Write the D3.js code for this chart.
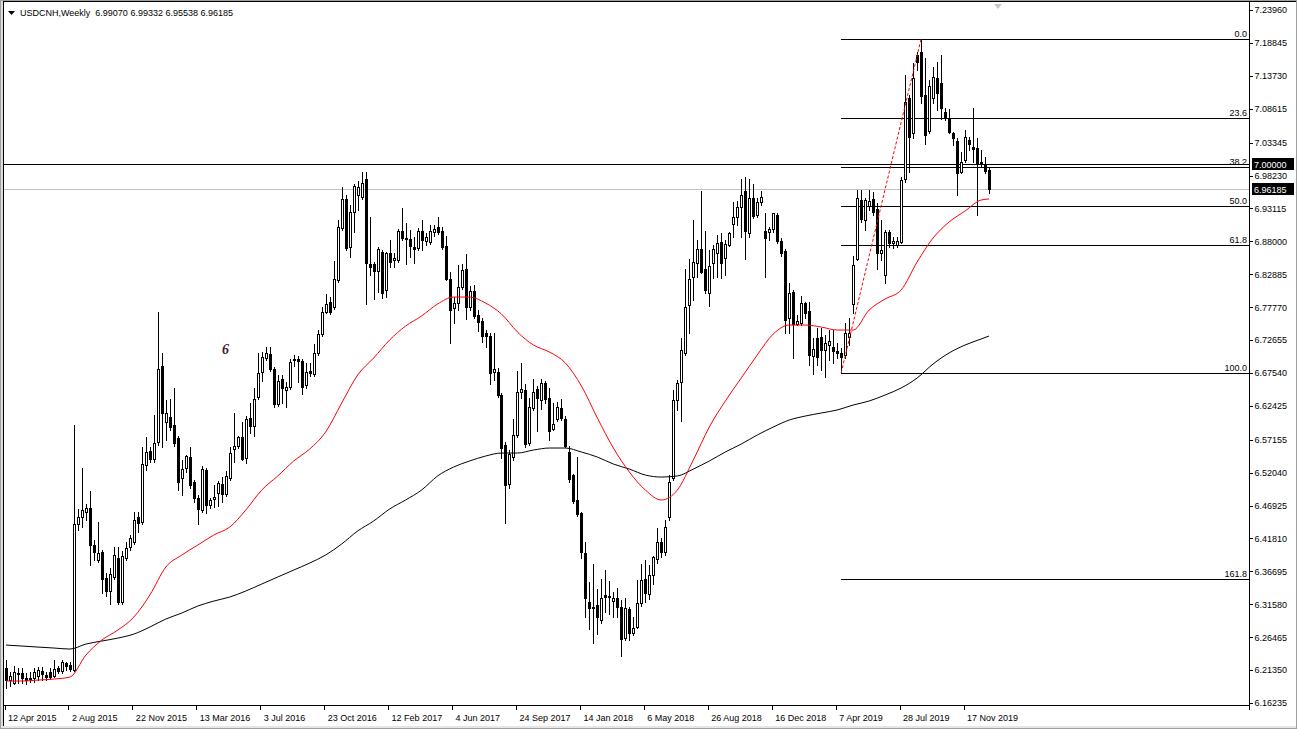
<!DOCTYPE html>
<html><head><meta charset="utf-8">
<script src="https://cdn.jsdelivr.net/npm/d3@7"></script>
<style>
body{margin:0;background:#fff;}
svg{display:block;}
text{font-family:"Liberation Sans",Arial,sans-serif;font-size:9px;fill:#000;white-space:pre;}
</style>
</head><body><svg id="chart" width="1297" height="729"></svg>
<script>
// ---------------- DATA ----------------
const symbolTitle = "USDCNH,Weekly";
const lastQuote = ["6.99070","6.99332","6.95538","6.96185"];

const opens = [
6.2167,6.1980,6.1934,6.2089,6.2089,6.2012,6.1996,6.2012,6.2043,6.2120,
6.2058,6.2105,6.2043,6.2167,6.2120,6.2245,6.2214,6.2136,6.4405,6.4514,
6.4592,6.4654,6.4079,6.3846,6.3970,6.3566,6.3364,6.3582,6.3877,6.3193,
6.3877,6.4048,6.4126,6.4514,6.4437,6.5323,6.5540,6.5416,6.5680,6.6861,
6.5991,6.6069,6.5944,6.5742,6.5120,6.5276,6.5447,6.5058,6.4810,6.4623,
6.5245,6.4701,6.4794,6.4887,6.5027,6.4872,6.5120,6.5571,6.5618,6.5758,
6.5431,6.6053,6.5929,6.6380,6.6768,6.6986,6.7048,6.6815,6.6271,6.6660,
6.6488,6.6535,6.6955,6.6970,6.6939,6.6566,6.6784,6.6737,6.7064,6.7359,
6.7701,6.7857,6.7779,6.8198,6.9007,6.9458,6.8711,6.9255,6.9520,6.9489,
6.9768,6.8447,6.8447,6.8338,6.8634,6.8043,6.8618,6.8509,6.8509,6.8960,
6.8851,6.8836,6.8711,6.8696,6.8960,6.8805,6.8789,6.8945,6.9022,6.8960,
6.8727,6.8214,6.7763,6.7841,6.8090,6.8370,6.7779,6.8027,6.7654,6.7561,
6.7374,6.7328,6.6768,6.6768,6.6411,6.5633,6.5027,6.5447,6.5789,6.6457,
6.6488,6.5665,6.6209,6.6504,6.6333,6.6597,6.6364,6.5882,6.6038,6.6209,
6.6038,6.5525,6.5167,6.4779,6.4576,6.3955,6.3193,6.3100,6.3146,6.2913,
6.3302,6.3271,6.3208,6.3255,6.3115,6.2633,6.3084,6.2711,6.2804,6.3177,
6.3550,6.3317,6.3613,6.3862,6.4126,6.3970,6.4514,6.5120,6.6333,6.6613,
6.7064,6.7810,6.8245,6.8463,6.8680,6.8370,6.7996,6.8463,6.8618,6.8789,
6.8540,6.8742,6.9069,6.9178,6.9333,6.9582,6.8929,6.9473,6.9209,6.9411,
6.8960,6.8945,6.8991,6.9209,6.8805,6.8649,6.7608,6.8012,6.7514,6.7530,
6.7841,6.7717,6.7017,6.7297,6.7313,6.7110,6.7188,6.7157,6.7095,6.7064,
6.7033,6.7313,6.7825,6.8525,6.9442,6.9131,6.9349,6.9458,6.9302,6.8618,
6.8276,6.8945,6.8773,6.8742,6.8789,6.9768,7.1028,7.0484,7.1696,7.1743,
7.1074,7.0515,7.1028,7.1338,7.1261,7.0810,7.0717,7.0484,7.0359,6.9877,
7.0064,7.0375,7.0266,7.0250,7.0033,7.0002,6.9907];

const highs = [
6.2291,6.2105,6.2198,6.2167,6.2167,6.2089,6.2105,6.2167,6.2183,6.2183,
6.2105,6.2167,6.2291,6.2198,6.2291,6.2260,6.2260,6.5944,6.4639,6.5276,
6.4716,6.4918,6.4157,6.4437,6.4001,6.3644,6.3721,6.4048,6.4048,6.3986,
6.4126,6.4234,6.4592,6.4592,6.5602,6.5758,6.5602,6.6100,6.7701,6.7064,
6.6333,6.6349,6.6520,6.5773,6.5400,6.5478,6.5602,6.5089,6.4856,6.5307,
6.5276,6.4810,6.5012,6.5074,6.5136,6.5229,6.5602,6.6131,6.5773,6.5991,
6.6084,6.6286,6.6520,6.7064,6.7079,6.7157,6.7157,6.6846,6.6722,6.6722,
6.6613,6.6970,6.7032,6.7017,6.6970,6.6908,6.6908,6.7204,6.7421,6.7779,
6.7981,6.7934,6.8494,6.9131,6.9644,6.9520,6.9364,6.9691,6.9738,6.9877,
6.9877,6.9178,6.8478,6.8711,6.8665,6.8634,6.8820,6.8618,6.8991,6.9318,
6.9085,6.8976,6.8867,6.9007,6.9131,6.8929,6.9053,6.9053,6.9178,6.9022,
6.8882,6.8323,6.7934,6.8432,6.8447,6.8603,6.8105,6.8121,6.7732,6.7608,
6.7421,6.7374,6.7374,6.6830,6.6442,6.5680,6.5556,6.6038,6.6784,6.6908,
6.6582,6.6364,6.6660,6.6551,6.6660,6.6628,6.6520,6.6286,6.6302,6.6349,
6.6084,6.5618,6.5183,6.5447,6.4592,6.4126,6.3504,6.3784,6.3395,6.3550,
6.3690,6.3519,6.3348,6.3410,6.3224,6.3255,6.3115,6.2960,6.3535,6.3784,
6.3846,6.3768,6.3908,6.4344,6.4188,6.4468,6.5167,6.6488,6.6644,6.7297,
6.8369,6.8525,6.9131,6.8820,6.9582,6.8960,6.8665,6.8743,6.8898,6.8929,
6.8820,6.8945,6.9411,6.9427,6.9768,6.9800,6.9768,6.9691,6.9473,6.9582,
6.9240,6.9022,6.9240,6.9240,6.8851,6.8680,6.8152,6.8043,6.7654,6.7950,
6.7857,6.7857,6.7297,6.7452,6.7452,6.7343,6.7421,6.7421,6.7219,6.7141,
6.7530,6.7608,6.8572,6.9597,6.9597,6.9473,6.9597,6.9566,6.9395,6.9131,
6.8976,6.8976,6.8867,6.8867,6.9800,7.1385,7.1074,7.1572,7.1743,7.1945,
7.1649,7.1307,7.1509,7.1587,7.1696,7.0872,7.0857,7.0499,7.0406,7.0188,
7.0530,7.0421,7.0872,7.0406,7.0219,7.0110,6.9933];

const lows = [
6.1856,6.1887,6.1918,6.1934,6.1934,6.1918,6.1949,6.1949,6.1980,6.1980,
6.1980,6.1996,6.2027,6.2089,6.2089,6.2136,6.2120,6.2120,6.4312,6.4359,
6.4468,6.3768,6.3846,6.3815,6.3333,6.3286,6.3162,6.3550,6.3162,6.3162,
6.3846,6.4001,6.4095,6.4281,6.4405,6.5245,6.5369,6.5369,6.5633,6.5602,
6.5711,6.5867,6.5618,6.4934,6.4856,6.5214,6.4965,6.4747,6.4405,6.4592,
6.4576,6.4654,6.4670,6.4685,6.4747,6.4841,6.5089,6.5369,6.5587,6.5400,
6.5354,6.5820,6.5773,6.6349,6.6628,6.6955,6.6784,6.6224,6.6240,6.6286,
6.6224,6.6504,6.6861,6.6613,6.6426,6.6520,6.6706,6.6706,6.7033,6.7328,
6.7686,6.7670,6.7748,6.8167,6.8976,6.8665,6.8556,6.8945,6.9287,6.9458,
6.7825,6.8276,6.7903,6.8012,6.7919,6.7934,6.8401,6.8401,6.8478,6.8820,
6.8447,6.8556,6.8463,6.8665,6.8665,6.8743,6.8758,6.8882,6.8914,6.8680,
6.8198,6.7219,6.7530,6.7732,6.8058,6.7592,6.7732,6.7608,6.7406,6.7235,
6.7157,6.6582,6.6644,6.6380,6.5431,6.4421,6.4965,6.5400,6.5758,6.6364,
6.5602,6.5633,6.6178,6.5851,6.6193,6.6286,6.5711,6.5867,6.6007,6.6022,
6.5602,6.5058,6.4732,6.4530,6.3877,6.2960,6.2773,6.2556,6.2695,6.2867,
6.3038,6.3006,6.2960,6.2960,6.2354,6.2602,6.2602,6.2680,6.2789,6.3131,
6.3193,6.3240,6.3473,6.3799,6.3893,6.3924,6.4468,6.5089,6.6178,6.6007,
6.7033,6.7375,6.7888,6.8245,6.8307,6.7996,6.7794,6.8230,6.8245,6.8230,
6.8276,6.8727,6.8867,6.9053,6.8867,6.8525,6.8867,6.9162,6.9178,6.9364,
6.8245,6.8820,6.8945,6.8773,6.8571,6.7375,6.7375,6.6986,6.7499,6.7499,
6.7608,6.6877,6.6737,6.6877,6.6799,6.6691,6.6955,6.6908,6.6986,6.6753,
6.6986,6.7188,6.7686,6.8509,6.9100,6.8976,6.9287,6.9209,6.8369,6.8509,
6.8152,6.8711,6.8696,6.8711,6.8773,6.9722,6.9877,7.0406,7.1463,7.0950,
7.0312,7.0484,7.0950,7.0841,7.0701,7.0686,7.0484,7.0297,6.9520,6.9862,
7.0033,7.0219,7.0033,6.9209,6.9955,6.9862,6.9554];

const closes = [
6.1980,6.2043,6.2105,6.2074,6.2012,6.1980,6.2012,6.2105,6.2136,6.2074,
6.2027,6.2027,6.2152,6.2120,6.2260,6.2198,6.2152,6.4405,6.4514,6.4623,
6.4654,6.4079,6.3970,6.3955,6.3550,6.3364,6.3628,6.3924,6.3193,6.3908,
6.4032,6.4188,6.4468,6.4421,6.5338,6.5525,6.5416,6.5665,6.6815,6.6131,
6.6131,6.5913,6.5665,6.5058,6.5260,6.5462,6.5012,6.4810,6.4639,6.5260,
6.4701,6.4779,6.4825,6.5043,6.4872,6.5152,6.5509,6.5618,6.5758,6.5416,
6.6038,6.5929,6.6349,6.6753,6.7002,6.7064,6.6815,6.6271,6.6628,6.6520,
6.6535,6.6924,6.6970,6.6939,6.6535,6.6768,6.6753,6.7064,6.7359,6.7701,
6.7825,6.7701,6.8214,6.9022,6.9458,6.8696,6.9255,6.9660,6.9644,6.9706,
6.8463,6.8401,6.8338,6.8680,6.7996,6.8618,6.8478,6.8540,6.8960,6.8851,
6.8836,6.8727,6.8680,6.8960,6.8820,6.8867,6.8960,6.8991,6.8945,6.8711,
6.8214,6.7732,6.7841,6.8090,6.8354,6.7779,6.8027,6.7639,6.7546,6.7328,
6.7328,6.6753,6.6815,6.6411,6.5587,6.5012,6.5494,6.5789,6.6457,6.6504,
6.5649,6.6224,6.6457,6.6364,6.6597,6.6349,6.5851,6.5960,6.6224,6.6053,
6.5618,6.5105,6.4763,6.4561,6.3970,6.3255,6.3100,6.3115,6.2960,6.3255,
6.3271,6.3286,6.3255,6.3115,6.2618,6.3100,6.2711,6.2789,6.3177,6.3535,
6.3333,6.3613,6.3893,6.4126,6.3970,6.4359,6.5058,6.6333,6.6597,6.7110,
6.7779,6.8214,6.8478,6.8680,6.8323,6.8043,6.8416,6.8680,6.8773,6.8463,
6.8758,6.8929,6.9178,6.9333,6.9520,6.8960,6.9473,6.9193,6.9411,6.9489,
6.8851,6.8991,6.9240,6.8805,6.8618,6.7577,6.7996,6.7514,6.7561,6.7841,
6.7686,6.7033,6.7126,6.7002,6.7110,6.7219,6.7250,6.7095,6.7064,6.7002,
6.7375,6.7375,6.8432,6.9473,6.9147,6.9442,6.9427,6.9255,6.8618,6.8665,
6.8945,6.8773,6.8805,6.8805,6.9753,7.0965,7.0421,7.1338,7.1587,7.1059,
7.0452,7.1214,7.1354,7.1105,7.0872,7.0717,7.0499,7.0406,6.9862,7.0033,
7.0421,7.0312,7.0235,7.0017,7.0002,6.9893,6.9619];

// moving averages read every 4th bar (plus the last bar)
const maStep = 4;
const maRed = [
6.1965,6.1965,6.1980,6.1996,6.2027,6.2369,6.2602,6.2758,6.2960,6.3302,
6.3737,6.3924,6.4079,6.4235,6.4359,6.4623,6.4934,6.5152,6.5385,6.5571,
6.5836,6.6286,6.6722,6.6986,6.7266,6.7483,6.7639,6.7826,6.7934,6.7934,
6.7841,6.7670,6.7390,6.7188,6.7079,6.6908,6.6551,6.6053,6.5587,6.5214,
6.4934,6.4779,6.4934,6.5400,6.5913,6.6317,6.6675,6.7033,6.7359,6.7499,
6.7499,6.7468,6.7421,6.7421,6.7732,6.7903,6.8043,6.8478,6.8851,6.9100,
6.9271,6.9442,6.9458];
const maBlack = [
6.2524,6.2509,6.2493,6.2478,6.2462,6.2540,6.2587,6.2633,6.2695,6.2804,
6.2929,6.3022,6.3131,6.3208,6.3271,6.3364,6.3473,6.3582,6.3690,6.3799,
6.3924,6.4095,6.4297,6.4452,6.4639,6.4779,6.4934,6.5152,6.5291,6.5385,
6.5462,6.5509,6.5509,6.5556,6.5587,6.5587,6.5525,6.5447,6.5338,6.5260,
6.5167,6.5136,6.5152,6.5260,6.5385,6.5525,6.5649,6.5789,6.5913,6.6022,
6.6084,6.6131,6.6178,6.6255,6.6318,6.6411,6.6520,6.6675,6.6893,6.7064,
6.7188,6.7281,6.7328];

const priceTicks = ["7.23960","7.18845","7.13730","7.08615","7.03345","6.98230","6.93115",
"6.88000","6.82885","6.77770","6.72655","6.67540","6.62425","6.57155","6.52040","6.46925",
"6.41810","6.36695","6.31580","6.26465","6.21350","6.16235"];
const dateTickLabels = ["12 Apr 2015","2 Aug 2015","22 Nov 2015","13 Mar 2016","3 Jul 2016",
"23 Oct 2016","12 Feb 2017","4 Jun 2017","24 Sep 2017","14 Jan 2018","6 May 2018",
"26 Aug 2018","16 Dec 2018","7 Apr 2019","28 Jul 2019","17 Nov 2019"];
const dateTickEvery = 16;

const fibLevels = [0, 23.6, 38.2, 50.0, 61.8, 100.0, 161.8];
const fibLabels = ["0.0","23.6","38.2","50.0","61.8","100.0","161.8"];
const fibHigh = 7.1945, fibHighBar = 229;
const fibLow = 6.6753, fibLowBar = 209;
const roundLevel = 7.0, roundLabel = "7.00000";
const bidPrice = 6.96185, bidLabel = "6.96185";

// ---------------- LAYOUT ----------------
const W = 1297, H = 729;
const plotL = 3, plotR = 1249, plotT = 0, plotB = 705;
const N = closes.length;

const svg = d3.select("#chart");
const x = d3.scaleLinear().domain([0, N - 1]).range([6, 989]);
const y = d3.scaleLinear().domain([+priceTicks[priceTicks.length-1], +priceTicks[0]]).range([703, 10]);
const px = v => Math.round(x(v));
const py = v => Math.round(y(v));

svg.append("rect").attr("width", W).attr("height", H).attr("fill", "#fff");
// window edge strips
svg.append("rect").attr("x",0).attr("y",0).attr("width",3).attr("height",H).attr("fill","#dcdcdc");
svg.append("rect").attr("x",0).attr("y",H-3).attr("width",W).attr("height",3).attr("fill","#e6e6e6");

svg.append("defs").append("clipPath").attr("id","plot")
  .append("rect").attr("x", plotL+1).attr("y", plotT).attr("width", plotR-plotL-1).attr("height", plotB-plotT);

const plot = svg.append("g").attr("clip-path","url(#plot)").attr("shape-rendering","crispEdges");

// bid line (grey) and round level
plot.append("line").attr("x1", plotL).attr("x2", plotR)
  .attr("y1", py(bidPrice)+0.5).attr("y2", py(bidPrice)+0.5).attr("stroke","#c0c0c0");
plot.append("line").attr("x1", plotL).attr("x2", plotR)
  .attr("y1", py(roundLevel)+0.5).attr("y2", py(roundLevel)+0.5).attr("stroke","#000");

// fibonacci levels
const fibPrice = l => fibHigh - (fibHigh - fibLow) * l / 100;
plot.selectAll("line.fib").data(fibLevels).join("line").attr("class","fib")
  .attr("x1", px(fibLowBar)).attr("x2", plotR)
  .attr("y1", d => py(fibPrice(d))+0.5).attr("y2", d => py(fibPrice(d))+0.5)
  .attr("stroke","#000");
svg.selectAll("text.fibl").data(fibLevels).join("text").attr("class","fibl")
  .attr("x", plotR-2).attr("y", d => py(fibPrice(d))-2.5)
  .attr("text-anchor","end").text((d,i)=>fibLabels[i]);

// moving averages
const maIdx = d3.range(0, N, maStep); if (maIdx[maIdx.length-1] !== N-1) maIdx.push(N-1);
const maLine = arr => d3.line().x((d,i)=>x(maIdx[i])).y(d=>y(d)).curve(d3.curveMonotoneX)(arr);
const smooth = svg.append("g").attr("clip-path","url(#plot)");
smooth.append("path").attr("d", maLine(maBlack)).attr("fill","none").attr("stroke","#000").attr("stroke-width",1);
smooth.append("path").attr("d", maLine(maRed)).attr("fill","none").attr("stroke","#ff0000").attr("stroke-width",1);

// fib trend line (dashed red)
smooth.append("line")
  .attr("x1", x(fibLowBar)).attr("y1", y(fibLow))
  .attr("x2", x(fibHighBar)).attr("y2", y(fibHigh))
  .attr("stroke","#ff0000").attr("stroke-dasharray","3,2");

// candles
const bars = d3.range(N);
const cg = plot.append("g");
cg.selectAll("rect.wick").data(bars).join("rect").attr("class","wick")
  .attr("x", i => px(i)).attr("width", 1)
  .attr("y", i => py(Math.max(highs[i], opens[i], closes[i])))
  .attr("height", i => py(Math.min(lows[i], opens[i], closes[i])) - py(Math.max(highs[i], opens[i], closes[i])) + 1)
  .attr("fill","#000");
cg.selectAll("rect.body").data(bars).join("rect").attr("class","body")
  .each(function(i){
    const up = closes[i] >= opens[i];
    const top = py(Math.max(opens[i], closes[i]));
    const bot = py(Math.min(opens[i], closes[i]));
    const s = d3.select(this);
    if (up) {
      s.attr("x", px(i)-0.5).attr("y", top+0.5).attr("width", 2).attr("height", Math.max(0, bot-top))
       .attr("fill","#fff").attr("stroke","#000").attr("stroke-width",1);
    } else {
      s.attr("x", px(i)-1).attr("y", top).attr("width", 3).attr("height", Math.max(1, bot-top+1))
       .attr("fill","#000");
    }
  });

// logo glyph
svg.append("text").attr("x", 222).attr("y", 354)
  .style("font-family","'Liberation Serif',serif").style("font-size","14px").style("font-weight","bold")
  .style("font-style","italic").style("fill","#4a1a1e").text("6");

// frame
const frame = svg.append("g").attr("shape-rendering","crispEdges");
frame.append("rect").attr("x",0.5).attr("y",0.5).attr("width",W-1).attr("height",H-1).attr("fill","none").attr("stroke","#a0a0a0");
frame.append("line").attr("x1",plotL+0.5).attr("x2",plotL+0.5).attr("y1",1).attr("y2",H-3).attr("stroke","#000");
frame.append("line").attr("x1",plotL).attr("x2",W-1).attr("y1",1.5).attr("y2",1.5).attr("stroke","#000");

// price axis
const yAxis = d3.axisRight(y).tickValues(priceTicks.map(Number))
  .tickFormat((d,i)=>priceTicks[i]).tickSize(3).tickPadding(2);
const ya = svg.append("g").attr("transform",`translate(${plotR+0.5},0)`).attr("shape-rendering","crispEdges").call(yAxis);
ya.select(".domain").remove();
ya.selectAll("text").style("font-family","'Liberation Sans',Arial,sans-serif").style("font-size","9px").attr("fill","#000");
ya.selectAll("line").attr("stroke","#000");
svg.append("line").attr("x1",plotR+0.5).attr("x2",plotR+0.5).attr("y1",1).attr("y2",710)
  .attr("stroke","#000").attr("shape-rendering","crispEdges");

// highlighted price labels
[[roundLevel, roundLabel],[bidPrice, bidLabel]].forEach(([v, lab]) => {
  svg.append("rect").attr("x", plotR+3).attr("y", py(v)-6).attr("width", 42).attr("height", 12).attr("fill","#000");
  svg.append("text").attr("x", plotR+5).attr("y", py(v)+3.5).style("fill","#fff").text(lab);
});

// date axis
const xAxis = d3.axisBottom(x).tickValues(d3.range(0, N, dateTickEvery))
  .tickFormat((d,i)=>dateTickLabels[i]).tickSize(4).tickPadding(5);
const xa = svg.append("g").attr("transform",`translate(-1.5,${plotB+0.5})`).attr("shape-rendering","crispEdges").call(xAxis);
xa.select(".domain").remove();
xa.selectAll("text").attr("text-anchor","start").attr("x", 3)
  .style("font-family","'Liberation Sans',Arial,sans-serif").style("font-size","9px").attr("fill","#000");
xa.selectAll("line").attr("stroke","#000");
svg.append("line").attr("x1",plotL).attr("x2",plotR+1).attr("y1",plotB+0.5).attr("y2",plotB+0.5)
  .attr("stroke","#000").attr("shape-rendering","crispEdges");

// header
svg.append("path").attr("d","M8,11 L15,11 L11.5,15 Z").attr("fill","#000");
svg.append("text").attr("x", 20).attr("y", 16).attr("xml:space","preserve")
  .text(symbolTitle + "  " + lastQuote.join(" "));

// chart shift marker
svg.append("path").attr("d","M994,4 L1002,4 L998,9 Z").attr("fill","#c8c8c8");
</script>
</body></html>
